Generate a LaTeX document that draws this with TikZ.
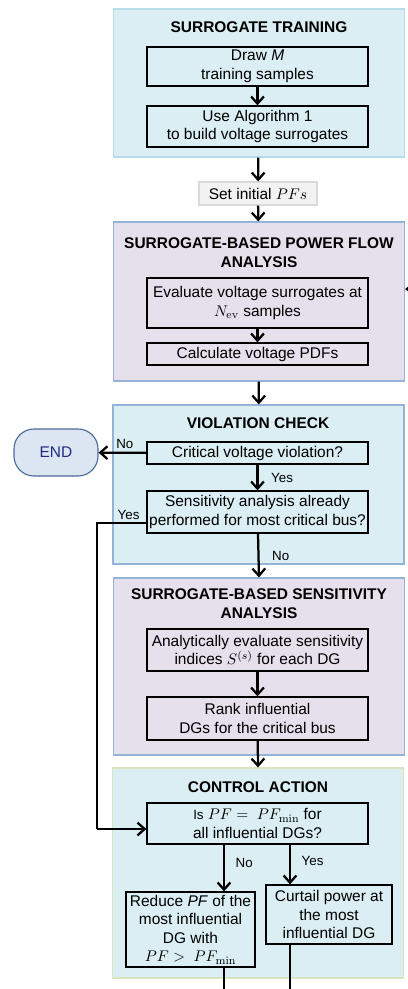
\documentclass[tikz,border=0pt]{standalone}
\usepackage[no-math]{fontspec}
\setmainfont{Liberation Sans}
\usepackage{amsmath}
\usetikzlibrary{arrows.meta, positioning, calc}

\definecolor{sgCyan}{HTML}{DAEEF3}
\definecolor{sgCyanLine}{HTML}{B7DDE8}
\definecolor{sgLilac}{HTML}{E5E0EC}
\definecolor{sgBlueLine}{HTML}{95B3D7}
\definecolor{sgGreenLine}{HTML}{D7E4BD}
\definecolor{sgGrey}{HTML}{F2F2F2}
\definecolor{sgGreyLine}{HTML}{D9D9D9}
\definecolor{sgEnd}{HTML}{DCE6F2}
\definecolor{sgEndLine}{HTML}{4A6A9A}
\definecolor{sgNavy}{HTML}{1F2A80}

\tikzset{
  sgfont/.style={font=\fontsize{11}{13.2}\selectfont},
  stage/.style={draw, line width=0.8pt, minimum width=72.75mm, inner sep=0pt},
  trainstage/.style={stage, fill=sgCyan, draw=sgCyanLine},
  pfstage/.style={stage, fill=sgLilac, draw=sgBlueLine},
  checkstage/.style={stage, fill=sgCyan, draw=sgBlueLine},
  actstage/.style={stage, fill=sgCyan, draw=sgGreenLine},
  stagetitle/.style={font=\fontsize{11}{13.5}\selectfont\bfseries, align=center},
  task/.style={draw, line width=0.9pt, sgfont, align=center, minimum width=55.25mm, inner sep=1pt},
  halftask/.style={task, minimum width=0pt},
  initbox/.style={draw=sgGreyLine, fill=sgGrey, line width=0.8pt, sgfont,
    minimum width=29.5mm, minimum height=5.75mm, inner sep=1pt},
  endbox/.style={draw=sgEndLine, fill=sgEnd, line width=0.8pt, rounded corners=5mm,
    minimum width=21mm, minimum height=11.75mm, font=\fontsize{11}{12}\selectfont, text=sgNavy},
  flow/.style={-{Straight Barb[length=1.8mm, width=3.2mm]}, line width=1.6pt},
  flowin/.style={-{Triangle[length=1.8mm, width=2.8mm]}, line width=1.6pt},
  loopline/.style={line width=0.8pt},
  tag/.style={font=\fontsize{9.5}{11}\selectfont, inner sep=1pt}
}

\begin{document}
\begin{tikzpicture}[x=0.025cm, y=-0.025cm]
  \useasboundingbox (0,0) rectangle (408,989);

  % stage panels
  \node[trainstage, minimum height=37mm] (train) at (259,83) {};
  \node[pfstage, minimum height=39.75mm] (pflow) at (259,301.5) {};
  \node[checkstage, minimum height=39.75mm] (check) at (258.5,484.5) {};
  \node[pfstage, minimum height=44.25mm] (sens) at (259,666.5) {};
  \node[actstage, minimum height=52.5mm] (act) at (258,873) {};

  \node[stagetitle] at (259,27) {SURROGATE TRAINING};
  \node[stagetitle] at (259,252.5) {SURROGATE-BASED POWER FLOW\\ANALYSIS};
  \node[stagetitle] at (258,423) {VIOLATION CHECK};
  \node[stagetitle] at (259,604) {SURROGATE-BASED SENSITIVITY\\ANALYSIS};
  \node[stagetitle] at (258,787) {CONTROL ACTION};

  % tasks
  \node[task, minimum height=9.75mm] (draw) at (257.5,66.5) {Draw \textit{M}\\training samples};
  \node[task, minimum height=10.25mm] (algo) at (257.5,126.5) {Use Algorithm 1\\to build voltage surrogates};
  \node[initbox] (initpf) at (258,193.5) {Set initial $PFs$};
  \node[task, minimum height=12.5mm] (evalsur) at (257.5,303) {Evaluate voltage surrogates at\\$N_{\mathrm{ev}}$ samples};
  \node[task, minimum height=5.5mm] (pdf) at (257.5,354) {Calculate voltage PDFs};
  \node[task, minimum height=5.5mm] (crit) at (257.5,453) {Critical voltage violation?};
  \node[task, minimum height=10.5mm] (done) at (257.5,512) {Sensitivity analysis already\\performed for most critical bus?};
  \node[task, minimum height=10.5mm] (indices) at (257.5,650) {Analytically evaluate sensitivity\\indices $S^{(s)}$ for each DG};
  \node[task, minimum height=10.75mm] (rank) at (257.5,718.5) {Rank influential\\DGs for the critical bus};
  \node[task, minimum height=10.25mm] (ispf) at (257.5,823.5) {{\fontsize{9.5}{11}\selectfont Is} $PF = \ PF_{\min}$ for\\all influential DGs?};
  \node[halftask, minimum width=32.25mm, minimum height=18.75mm] (reduce) at (190.5,929.5)
    {Reduce \textit{PF} of the\\most influential\\DG with\\$PF > \ PF_{\min}$};
  \node[halftask, minimum width=31.5mm, minimum height=14.75mm] (curtail) at (329,914.5)
    {Curtail power at\\the most\\influential DG};
  \node[endbox] (finish) at (56,452.5) {END};

  \coordinate (pfin) at (408,289);
  \coordinate (yescorner) at (97,829);
  \coordinate (redout) at (224,989);
  \coordinate (curout) at (290,989);

  % main flow
  \draw[flow] (draw) -- (algo);
  \draw[flow] (train) -- (initpf);
  \draw[flow] (initpf) -- (pflow);
  \draw[flow] (evalsur) -- (pdf);
  \draw[flow] (pflow) -- (check);
  \draw[flow] (crit) -- node[tag, above=0.5mm, pos=0.45] {No} (finish);
  \draw[flow] (crit) -- node[tag, right=2.8mm] {Yes} (done);
  \draw[flow] (done) -- node[tag, right=2.8mm] {No} (sens.north);
  \draw[flow] (indices) -- (rank);
  \draw[flow] (rank) -- (act.north);
  \draw[flow] (ispf.south -| redout) -- node[tag, right=2.3mm, pos=0.4] {No} (reduce.north -| redout);
  \draw[flow] (ispf.south -| curout) -- node[tag, right=2.3mm, pos=0.4] {Yes} (curtail.north -| curout);

  % loops
  \draw[loopline] ([yshift=-2.75mm]done.west) -- node[tag, above=0.3mm, pos=0.36] {Yes}
    ([yshift=-2.75mm]done.west -| yescorner) -- (yescorner);
  \draw[flow] (yescorner) -- (ispf.west |- yescorner);
  \draw[loopline] (reduce.south -| redout) -- (redout);
  \draw[loopline] (curtail.south -| curout) -- (curout);
  \draw[flowin] (pfin) -- (pflow.east |- pfin);
\end{tikzpicture}
\end{document}
